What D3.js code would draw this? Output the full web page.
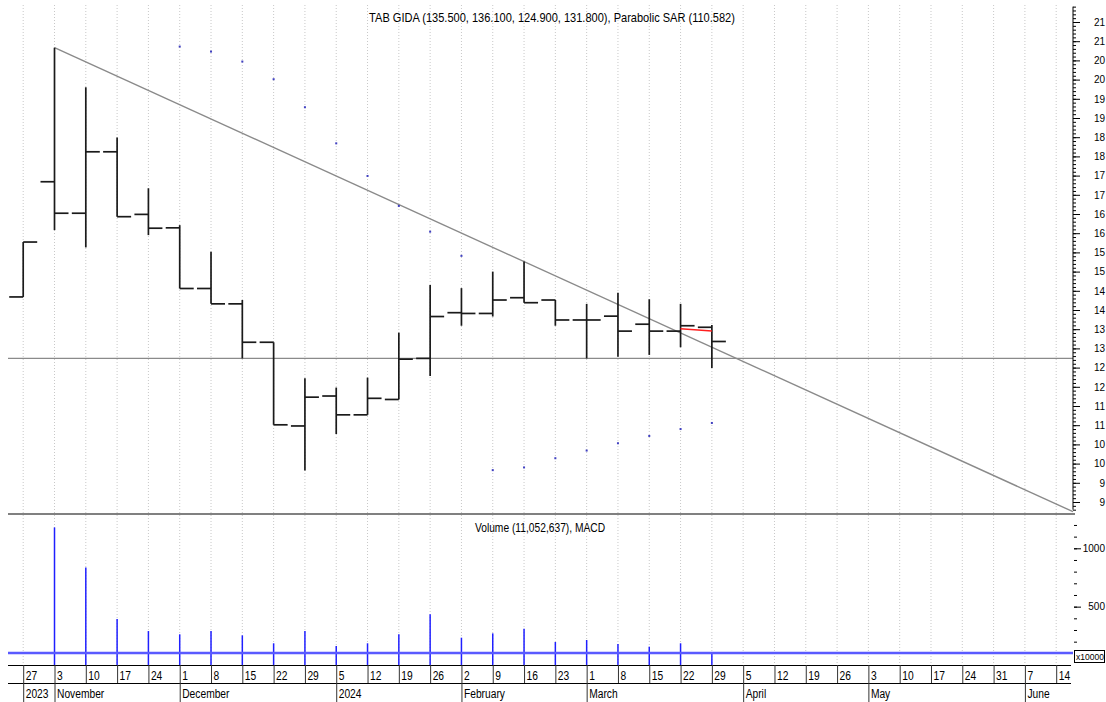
<!DOCTYPE html>
<html>
<head>
<meta charset="utf-8">
<script src="https://cdn.jsdelivr.net/npm/d3@7"></script>
<style>
  body { margin: 0; background: #fff; }
  svg { display: block; font-family: "Liberation Sans", Arial, sans-serif; }
</style>
</head>
<body>
<div class="container"></div>
<script>
const width = 1106;
const height = 702;

// weekly bars (Friday dates)
const weeks = ['2023-10-27', '2023-11-03', '2023-11-10', '2023-11-17', '2023-11-24',
  '2023-12-01', '2023-12-08', '2023-12-15', '2023-12-22', '2023-12-29',
  '2024-01-05', '2024-01-12', '2024-01-19', '2024-01-26', '2024-02-02',
  '2024-02-09', '2024-02-16', '2024-02-23', '2024-03-01', '2024-03-08',
  '2024-03-15', '2024-03-22', '2024-03-29'];
const open  = [143.4, 173.4, 165.2, 181.2, 164.9, 161.4, 145.6, 141.6, 131.6, 109.8,
  117.6, 112.7, 116.7, 127.4, 139.3, 139.1, 143.2, 142.6, 137.4, 138.4, 136.3, 134.5, 135.5];
const high  = [157.7, 208.3, 198.0, 184.9, 171.7, 162.1, 155.2, 142.6, 131.6, 122.2,
  119.8, 122.4, 134.1, 146.5, 145.7, 150.0, 152.6, 142.6, 141.6, 144.5, 142.8, 141.6, 136.1];
const low   = [143.4, 160.8, 156.3, 164.3, 159.5, 145.6, 141.6, 127.4, 110.1, 98.2,
  107.7, 112.7, 116.7, 122.8, 135.9, 138.3, 141.9, 135.9, 127.4, 127.8, 128.3, 130.3, 124.9];
const close = [157.7, 165.2, 181.2, 164.3, 161.3, 145.6, 141.6, 131.6, 110.1, 117.3,
  112.7, 117.0, 127.2, 138.3, 139.1, 142.6, 141.9, 137.4, 137.4, 134.5, 134.5, 135.9, 131.8];
// volume in units of 10000
const volume = [0, 1179, 836, 394, 291, 263, 291, 254, 186, 291, 163, 186, 263, 434,
  234, 271, 311, 197, 214, 180, 157, 186, 105];

const sarDates = ['2023-12-01', '2023-12-08', '2023-12-15', '2023-12-22', '2023-12-29',
  '2024-01-05', '2024-01-12', '2024-01-19', '2024-01-26', '2024-02-02',
  '2024-02-09', '2024-02-16', '2024-02-23', '2024-03-01', '2024-03-08',
  '2024-03-15', '2024-03-22', '2024-03-29'];
const sarValues = [208.6, 207.3, 204.7, 200.1, 192.8, 183.4, 174.9, 167.1, 160.4, 154.1,
  98.3, 99.0, 101.4, 103.4, 105.3, 107.2, 109.0, 110.582];

// drawn lines
const trendDates = ['2023-11-03', '2024-02-16'];
const trendValues = [208.3, 152.6];
const levelValue = 127.4;
const redDates = ['2024-03-22', '2024-03-29'];
const redValues = [135.1, 134.5];
const macdLevel = 103;

const priceTicks = d3.range(90, 216, 5);
const volTicks = [500, 1000];
const monthDates = ['2023-10-27', '2023-11-03', '2023-12-01', '2024-01-05', '2024-02-02',
  '2024-03-01', '2024-04-05', '2024-05-03', '2024-06-07'];
const monthNames = ['2023', 'November', 'December', '2024', 'February', 'March', 'April', 'May', 'June'];

const title = 'TAB GIDA (135.500, 136.100, 124.900, 131.800), Parabolic SAR (110.582)';
const volTitle = 'Volume (11,052,637), MACD';

const parse = d3.utcParse('%Y-%m-%d');
const left = 8;
const right = 1073;
const squeeze = 0.82; // narrow look of the original font

const x = d3.scaleUtc()
  .domain([parse('2023-10-27'), parse('2024-06-14')])
  .range([23.2, 1056.2]);
const y = d3.scaleLinear().domain([90, 215]).range([502, 22]);
const yVol = d3.scaleLinear().domain([0, 1000]).range([665, 548.3]);

const bars = weeks.map((d, i) => ({
  date: parse(d), o: open[i], h: high[i], l: low[i], c: close[i], v: volume[i],
}));

const svg = d3.select('.container')
  .append('svg')
  .attr('width', width)
  .attr('height', height);

// weekly grid
const weekTicks = x.ticks(d3.utcFriday.every(1));
svg.append('g')
  .selectAll('line')
  .data(weekTicks)
  .join('line')
  .attr('x1', d => x(d)).attr('x2', d => x(d))
  .attr('y1', 5).attr('y2', 665)
  .attr('stroke', '#c8c8c8')
  .attr('stroke-dasharray', '1,2');

// titles
svg.append('text')
  .attr('transform', 'translate(552,22) scale(0.85,1)')
  .attr('text-anchor', 'middle')
  .attr('font-size', 13)
  .text(title);

svg.append('text')
  .attr('transform', `translate(540,532) scale(${squeeze},1)`)
  .attr('text-anchor', 'middle')
  .attr('font-size', 12.5)
  .text(volTitle);

// level line and trend line
svg.append('line')
  .attr('x1', left).attr('x2', right)
  .attr('y1', y(levelValue)).attr('y2', y(levelValue))
  .attr('stroke', '#8a8a8a').attr('stroke-width', 1.4);

const tx1 = x(parse(trendDates[0]));
const ty1 = y(trendValues[0]);
const slope = (y(trendValues[1]) - ty1) / (x(parse(trendDates[1])) - tx1);
svg.append('line')
  .attr('x1', tx1).attr('y1', ty1)
  .attr('x2', right).attr('y2', ty1 + slope * (right - tx1))
  .attr('stroke', '#8a8a8a').attr('stroke-width', 1.4);

// OHLC bars
const half = 14;
const g = svg.append('g').attr('stroke', '#1a1a1a').attr('stroke-width', 1.7);
g.selectAll('.hl')
  .data(bars)
  .join('line')
  .attr('x1', d => x(d.date)).attr('x2', d => x(d.date))
  .attr('y1', d => y(d.h)).attr('y2', d => y(d.l));
g.selectAll('.op')
  .data(bars)
  .join('line')
  .attr('x1', d => x(d.date) - half).attr('x2', d => x(d.date))
  .attr('y1', d => y(d.o)).attr('y2', d => y(d.o));
g.selectAll('.cl')
  .data(bars)
  .join('line')
  .attr('x1', d => x(d.date)).attr('x2', d => x(d.date) + half)
  .attr('y1', d => y(d.c)).attr('y2', d => y(d.c));

// red drawn segment
svg.append('line')
  .attr('x1', x(parse(redDates[0]))).attr('y1', y(redValues[0]))
  .attr('x2', x(parse(redDates[1]))).attr('y2', y(redValues[1]))
  .attr('stroke', '#ff2020').attr('stroke-width', 1.5);

// parabolic SAR
svg.append('g')
  .selectAll('rect')
  .data(sarDates)
  .join('rect')
  .attr('x', d => x(parse(d)) - 1)
  .attr('y', (d, i) => y(sarValues[i]) - 1)
  .attr('width', 2).attr('height', 2)
  .attr('fill', '#4040c0');

// price axis
const spine = svg.append('g').attr('transform', `translate(${right},0)`);
spine.append('line')
  .attr('y1', y(219)).attr('y2', y(88))
  .attr('stroke', '#000');
const minorAxis = d3.axisRight(y).tickValues(d3.range(88, 220, 1)).tickSize(3).tickFormat('');
spine.append('g').call(minorAxis).call(s => s.select('.domain').remove());
const majorAxis = d3.axisRight(y).tickValues(priceTicks).tickSize(7)
  .tickFormat(d => Math.floor(d / 10));
spine.append('g').call(majorAxis)
  .call(s => s.select('.domain').remove())
  .call(s => s.selectAll('text')
    .attr('x', 32)
    .attr('text-anchor', 'end')
    .attr('font-family', '"Liberation Sans", Arial, sans-serif')
    .attr('font-size', 10)
    .attr('fill', '#000'));

// panel separator
svg.append('line')
  .attr('x1', left).attr('x2', right + 2)
  .attr('y1', 514).attr('y2', 514)
  .attr('stroke', '#808080').attr('stroke-width', 2);

// volume
svg.append('g')
  .selectAll('line')
  .data(bars.filter(d => d.v > 0))
  .join('line')
  .attr('x1', d => x(d.date)).attr('x2', d => x(d.date))
  .attr('y1', d => yVol(d.v)).attr('y2', yVol(0))
  .attr('stroke', '#1f1fff').attr('stroke-width', 1.5);

svg.append('line')
  .attr('x1', left).attr('x2', right)
  .attr('y1', yVol(macdLevel)).attr('y2', yVol(macdLevel))
  .attr('stroke', '#5a5aff').attr('stroke-width', 2.5);

const volAxisG = svg.append('g').attr('transform', `translate(${right + 1},0)`);
volAxisG.append('g')
  .call(d3.axisRight(yVol).tickValues(d3.range(200, 1300, 100)).tickSize(3).tickFormat(''))
  .call(s => s.select('.domain').remove());
volAxisG.append('g')
  .call(d3.axisRight(yVol).tickValues(volTicks).tickSize(7).tickFormat(d => d))
  .call(s => s.select('.domain').remove())
  .call(s => s.selectAll('text')
    .attr('x', 31)
    .attr('text-anchor', 'end')
    .attr('font-family', '"Liberation Sans", Arial, sans-serif')
    .attr('font-size', 10)
    .attr('fill', '#000'));

svg.append('rect')
  .attr('x', 1074.5).attr('y', 650.5)
  .attr('width', 30).attr('height', 12)
  .attr('fill', '#fff').attr('stroke', '#000');
svg.append('text')
  .attr('x', 1076).attr('y', 660)
  .attr('font-size', 8.5)
  .text('x10000');

// time axis
function styleAxisText(s) {
  s.selectAll('text')
    .attr('x', null).attr('y', null).attr('dy', null)
    .attr('transform', `translate(2,15) scale(${squeeze},1)`)
    .attr('text-anchor', 'start')
    .attr('font-family', '"Liberation Sans", Arial, sans-serif')
    .attr('font-size', 12.5)
    .attr('fill', '#000');
}

const axisWeeks = d3.axisBottom(x)
  .tickValues(weekTicks)
  .tickSize(18)
  .tickFormat(d3.utcFormat('%-d'));
svg.append('g')
  .attr('transform', 'translate(0,665)')
  .call(axisWeeks)
  .call(s => s.select('.domain').attr('d', `M${left},0.5H${right - 2}`))
  .call(s => s.selectAll('.tick line').attr('stroke', '#333'))
  .call(styleAxisText);

const axisMonths = d3.axisBottom(x)
  .tickValues(monthDates.map(parse))
  .tickSize(19)
  .tickFormat((d, i) => monthNames[i]);
svg.append('g')
  .attr('transform', 'translate(0,683)')
  .call(axisMonths)
  .call(s => s.select('.domain').attr('d', `M${left},0.5H${right - 2}`))
  .call(s => s.selectAll('.tick line').attr('stroke', '#333'))
  .call(styleAxisText);
</script>
</body>
</html>
